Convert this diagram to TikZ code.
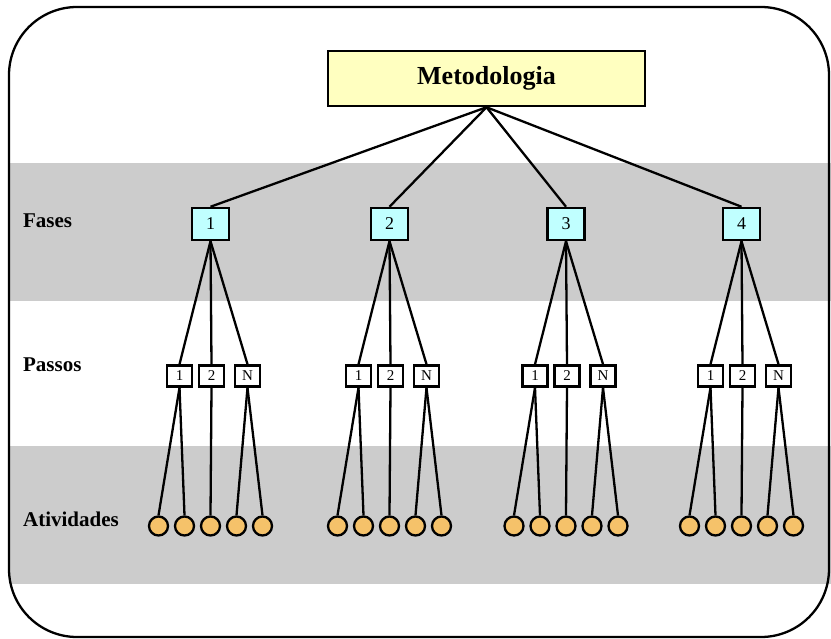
\documentclass[tikz,border=0pt]{standalone}
\usepackage{fontspec}
\setmainfont{Liberation Serif}
\definecolor{bandgray}{HTML}{CCCCCC}
\definecolor{metofill}{HTML}{FFFFC0}
\definecolor{phasefill}{HTML}{C0FFFF}
\definecolor{actfill}{HTML}{F5C26A}
\begin{document}
\begin{tikzpicture}[x=1pt,y=-1pt,line width=2.3pt,
  metobox/.style={draw,line width=2.5pt,fill=metofill,minimum width=317pt,minimum height=55pt,inner sep=0pt,font=\fontsize{26}{30}\selectfont\bfseries},
  phasebox/.style={draw,line width=2.5pt,fill=phasefill,minimum width=37pt,minimum height=32pt,inner sep=0pt,font=\fontsize{18}{20}\selectfont},
  stepbox/.style={draw,line width=2.5pt,fill=white,minimum width=25pt,minimum height=21pt,inner sep=0pt,font=\fontsize{15}{17}\selectfont},
  actnode/.style={draw,line width=2.3pt,fill=actfill,circle,minimum size=19pt,inner sep=0pt},
  rowlabel/.style={anchor=west,inner sep=0pt,font=\fontsize{21}{24}\selectfont\bfseries},
  link/.style={line width=2.3pt}]
\useasboundingbox (0,0) rectangle (831,639);
% bands
\fill[bandgray] (9,163) rectangle (831,301);
\fill[bandgray] (9,446) rectangle (831,584);
% outer frame
\draw[line width=2.3pt,rounded corners=68pt] (9,7) rectangle (829,637);
% labels
\node[rowlabel] (lf) at (22,221) {Fases};
\node[rowlabel] (lp) at (22,365) {Passos};
\node[rowlabel] (la) at (22,519) {Atividades};
% top
\node[metobox] (m) at (486.5,78.5) {Metodologia};
\foreach \i/\cx in {1/210.5,2/389.5,3/566,4/741.5}{
  \node[phasebox] (p\i) at (\cx,224) {\i};
  \draw[link] (m.south) -- (p\i.north);
  \node[stepbox] (s\i a) at (\cx-31,376) {1};
  \node[stepbox] (s\i b) at (\cx+1,376) {2};
  \node[stepbox] (s\i c) at (\cx+37,376) {N};
  \foreach \s in {a,b,c}{ \draw[link] (p\i.south) -- (s\i\s.north); }
  \node[actnode] (c\i a) at (\cx-52,526) {};
  \node[actnode] (c\i b) at (\cx-26,526) {};
  \node[actnode] (c\i c) at (\cx,526) {};
  \node[actnode] (c\i d) at (\cx+26,526) {};
  \node[actnode] (c\i e) at (\cx+52,526) {};
  \draw[link] (s\i a.south) -- (c\i a.north);
  \draw[link] (s\i a.south) -- (c\i b.north);
  \draw[link] (s\i b.south) -- (c\i c.north);
  \draw[link] (s\i c.south) -- (c\i d.north);
  \draw[link] (s\i c.south) -- (c\i e.north);
}
\end{tikzpicture}
\end{document}
